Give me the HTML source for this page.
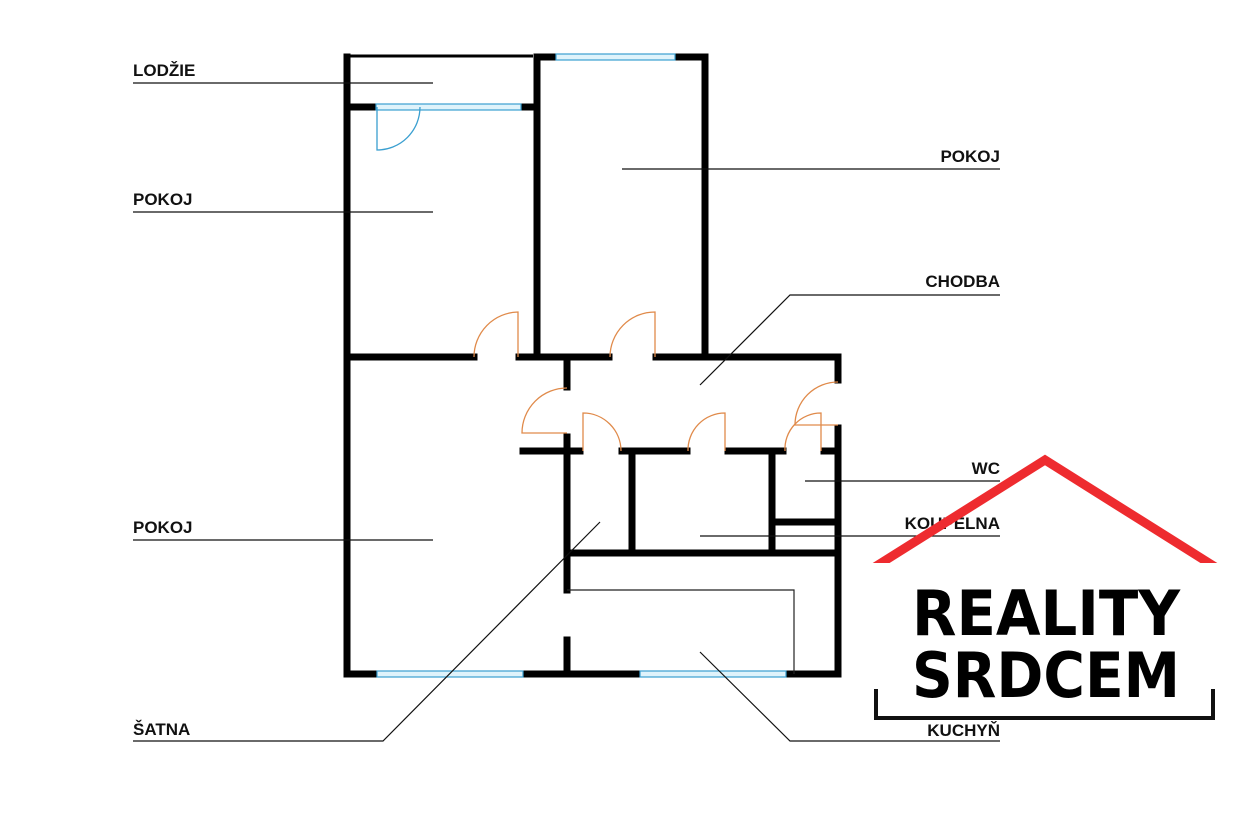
<!DOCTYPE html>
<html><head><meta charset="utf-8"><style>
html,body{margin:0;padding:0;background:#fff;}
svg{display:block;}
.t{font-family:"Liberation Sans",Arial,sans-serif;font-weight:bold;font-size:17px;fill:#111;}
</style></head><body>
<svg width="1245" height="813" viewBox="0 0 1245 813" xmlns="http://www.w3.org/2000/svg">
<g stroke="#000" stroke-width="7" fill="none" stroke-linecap="square">
<line x1="347" y1="57" x2="347" y2="674"/>
<line x1="347" y1="107" x2="376" y2="107"/>
<line x1="521" y1="107" x2="533" y2="107"/>
<line x1="537" y1="57" x2="537" y2="357"/>
<line x1="537" y1="57" x2="556" y2="57"/>
<line x1="675" y1="57" x2="705" y2="57"/>
<line x1="705" y1="57" x2="705" y2="357"/>
<line x1="347" y1="357" x2="474" y2="357"/>
<line x1="519" y1="357" x2="609" y2="357"/>
<line x1="656" y1="357" x2="838" y2="357"/>
<line x1="838" y1="357" x2="838" y2="380"/>
<line x1="838" y1="428" x2="838" y2="674"/>
<line x1="347" y1="674" x2="377" y2="674"/>
<line x1="523" y1="674" x2="640" y2="674"/>
<line x1="786" y1="674" x2="838" y2="674"/>
<line x1="567" y1="357" x2="567" y2="387"/>
<line x1="567" y1="437" x2="567" y2="590"/>
<line x1="567" y1="640" x2="567" y2="674"/>
<line x1="523" y1="451" x2="580" y2="451"/>
<line x1="622" y1="451" x2="687" y2="451"/>
<line x1="728" y1="451" x2="783" y2="451"/>
<line x1="824" y1="451" x2="836" y2="451"/>
<line x1="632" y1="451" x2="632" y2="550"/>
<line x1="772" y1="451" x2="772" y2="550"/>
<line x1="772" y1="522" x2="838" y2="522"/>
<line x1="567" y1="553" x2="838" y2="553"/>
</g>
<line x1="347" y1="56" x2="533" y2="56" stroke="#000" stroke-width="3"/>
<polyline points="567,590 794,590 794,674" fill="none" stroke="#222" stroke-width="1.2"/>
<g fill="#dff3fb" stroke="#3a9fd0" stroke-width="1.2">
<rect x="376" y="104" width="145" height="6"/>
<rect x="556" y="54" width="119" height="6"/>
<rect x="377" y="671" width="146" height="6"/>
<rect x="640" y="671" width="146" height="6"/>
</g>
<path d="M377 107 V150 A43 43 0 0 0 420 107" fill="none" stroke="#3a9fd0" stroke-width="1.3"/>
<g fill="none" stroke="#e08a4a" stroke-width="1.3">
<path d="M518 357 V312 A45 45 0 0 0 474 357"/>
<path d="M655 357 V312 A45 45 0 0 0 610 357"/>
<path d="M567 388 A45 45 0 0 0 522 433 H567"/>
<path d="M583 451 V413 A38 38 0 0 1 621 451"/>
<path d="M725 451 V413 A37 37 0 0 0 688 451"/>
<path d="M821 451 V413 A36 36 0 0 0 785 451"/>
<path d="M838 382 A43 43 0 0 0 795 425 H838"/>
</g>
<g stroke="#111" stroke-width="1.2" fill="none">
<line x1="133" y1="83" x2="433" y2="83"/>
<line x1="133" y1="212" x2="433" y2="212"/>
<line x1="133" y1="540" x2="433" y2="540"/>
<polyline points="133,741 383,741 600,522"/>
<line x1="622" y1="169" x2="1000" y2="169"/>
<polyline points="1000,295 790,295 700,385"/>
<line x1="805" y1="481" x2="1000" y2="481"/>
<line x1="700" y1="536" x2="1000" y2="536"/>
<polyline points="1000,741 790,741 700,652"/>
</g>
<text class="t" x="133" y="76">LODŽIE</text>
<text class="t" x="133" y="205">POKOJ</text>
<text class="t" x="133" y="533">POKOJ</text>
<text class="t" x="133" y="735">ŠATNA</text>
<text class="t" x="1000" y="162" text-anchor="end">POKOJ</text>
<text class="t" x="1000" y="287" text-anchor="end">CHODBA</text>
<text class="t" x="1000" y="474" text-anchor="end">WC</text>
<text class="t" x="1000" y="529" text-anchor="end">KOUPELNA</text>
<text class="t" x="1000" y="736" text-anchor="end">KUCHYŇ</text>
<rect x="874" y="563" width="345" height="157" fill="#fff"/>
<clipPath id="c"><rect x="850" y="440" width="380" height="123"/></clipPath>
<polyline points="870,570 1045,460 1220,570" fill="none" stroke="#ee2b2f" stroke-width="9" clip-path="url(#c)"/>
<text x="912" y="635" textLength="268" lengthAdjust="spacingAndGlyphs" style="font-family:'DejaVu Sans',sans-serif;font-weight:bold;font-size:62px;fill:#000">REALITY</text>
<text x="912" y="697" textLength="268" lengthAdjust="spacingAndGlyphs" style="font-family:'DejaVu Sans',sans-serif;font-weight:bold;font-size:62px;fill:#000">SRDCEM</text>
<polyline points="876,689 876,718 1213,718 1213,689" fill="none" stroke="#111" stroke-width="4"/>
</svg>
</body></html>
